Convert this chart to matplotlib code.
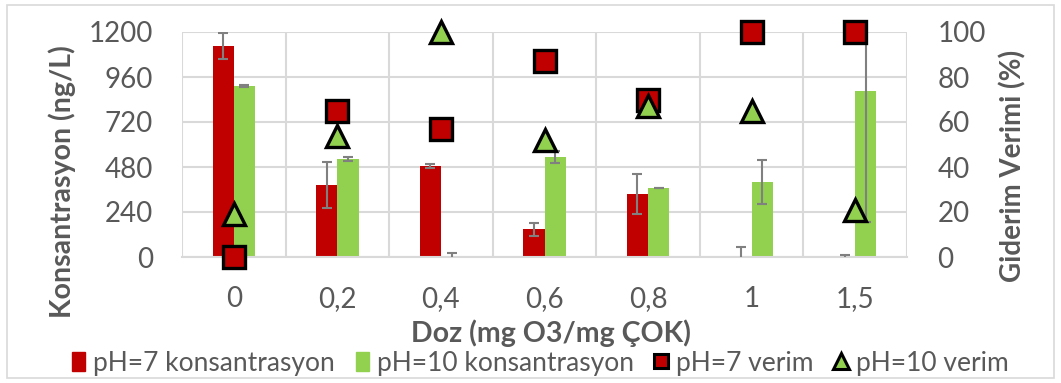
import matplotlib
matplotlib.use('Agg')
import matplotlib.pyplot as plt
import numpy as np
from matplotlib.patches import Rectangle
from matplotlib.lines import Line2D

plt.rcParams['font.family'] = ['Lato', 'DejaVu Sans']

# data
doses = ['0', '0,2', '0,4', '0,6', '0,8', '1', '1,5']
ph7_conc = [1125, 384, 485, 149, 336, 0, 0]
ph7_err = [70, 125, 10, 35, 107, 53, 10]
ph10_conc = [912, 523, 0, 533, 368, 400, 885]
ph10_err = [3, 10, 20, 32, 2, 115, 700]
ph7_eff = [0, 65, 57, 87, 70, 100, 100]
ph10_eff = [19, 54, 100, 52, 67, 65, 21]

red = '#C00000'
green = '#92D050'
grey = '#595959'
grid_c = '#D9D9D9'

W, H = 1061, 383
fig = plt.figure(figsize=(W / 100, H / 100), dpi=100)
fig.patches.append(Rectangle((0.007, 0.013), 0.986, 0.974, transform=fig.transFigure,
                             fill=False, edgecolor='#D9D9D9', linewidth=1.2))
ax1 = fig.add_axes([182 / W, 1 - 257 / H, 725 / W, 225 / H])
x = np.arange(len(doses))
w = 0.205

ax1.bar(x - w/2, ph7_conc, w, color=red, zorder=2)
ax1.bar(x + w/2, ph10_conc, w, color=green, zorder=2)
ax1.errorbar(x - w/2, ph7_conc, yerr=ph7_err, fmt='none', ecolor='#808080',
             elinewidth=1.5, capsize=3.5, capthick=1.5, zorder=3)
ax1.errorbar(x + w/2, ph10_conc, yerr=ph10_err, fmt='none', ecolor='#808080',
             elinewidth=1.5, capsize=3.5, capthick=1.5, zorder=3)

ax1.set_xlim(-0.5, len(doses) - 0.5)
ax1.set_ylim(0, 1200)
ax1.set_yticks([0, 240, 480, 720, 960, 1200])
ax1.set_xticks(x)
ax1.set_xticklabels(doses)
ax1.set_xticks(np.arange(-0.5, len(doses)), minor=True)
ax1.grid(False)
ax1.yaxis.grid(True, color=grid_c, linewidth=1.5, zorder=0)
ax1.xaxis.grid(True, which='minor', color=grid_c, linewidth=1.5, zorder=0)
ax1.set_axisbelow(True)
for s in ax1.spines.values():
    s.set_visible(False)
ax1.spines['bottom'].set_visible(True)
ax1.spines['bottom'].set_color(grid_c)
ax1.spines['bottom'].set_linewidth(1.5)
ax1.tick_params(axis='both', which='both', length=0, labelsize=20, colors=grey)
ax1.tick_params(axis='y', pad=21)
ax1.tick_params(axis='x', pad=21)

ax2 = ax1.twinx()
ax2.set_ylim(0, 100)
ax2.set_yticks([0, 20, 40, 60, 80, 100])
for s in ax2.spines.values():
    s.set_visible(False)
ax2.tick_params(axis='y', length=0, labelsize=20, colors=grey, pad=22)
ax2.plot(x, ph7_eff, linestyle='none', marker='s', markersize=15.5, markerfacecolor=red,
         markeredgecolor='black', markeredgewidth=2.4, clip_on=False, zorder=4)
ax2.plot(x, ph10_eff, linestyle='none', marker='^', markersize=16, markerfacecolor=green,
         markeredgecolor='black', markeredgewidth=2.4, clip_on=False, zorder=4)

# axis titles placed like the original
fig.text(62 / W, 1 - 182 / H, 'Konsantrasyon (ng/L)', rotation=90, ha='center', va='center',
         fontsize=20.5, fontweight='bold', color=grey)
fig.text(1013 / W, 1 - 166 / H, 'Giderim Verimi (%)', rotation=90, ha='center', va='center',
         fontsize=20, fontweight='bold', color=grey)
fig.text(551 / W, 1 - 333 / H, 'Doz (mg O3/mg ÇOK)', ha='center', va='center',
         fontsize=20.5, fontweight='bold', color=grey)

handles = [
    Rectangle((0, 0), 1, 1, color=red),
    Rectangle((0, 0), 1, 1, color=green),
    Line2D([], [], linestyle='none', marker='s', markersize=10, markerfacecolor=red,
           markeredgecolor='black', markeredgewidth=2.2),
    Line2D([], [], linestyle='none', marker='^', markersize=11, markerfacecolor=green,
           markeredgecolor='black', markeredgewidth=2.2),
]
labels = ['pH=7 konsantrasyon', 'pH=10 konsantrasyon', 'pH=7 verim', 'pH=10 verim']
leg = fig.legend(handles, labels, loc='center', bbox_to_anchor=(540 / W, 1 - 363 / H), ncol=4,
                 frameon=False, fontsize=19, handlelength=0.5, handleheight=0.7,
                 handletextpad=0.3, columnspacing=0.8, borderpad=0)
for t in leg.get_texts():
    t.set_color(grey)

plt.savefig('out.png', dpi=100)
